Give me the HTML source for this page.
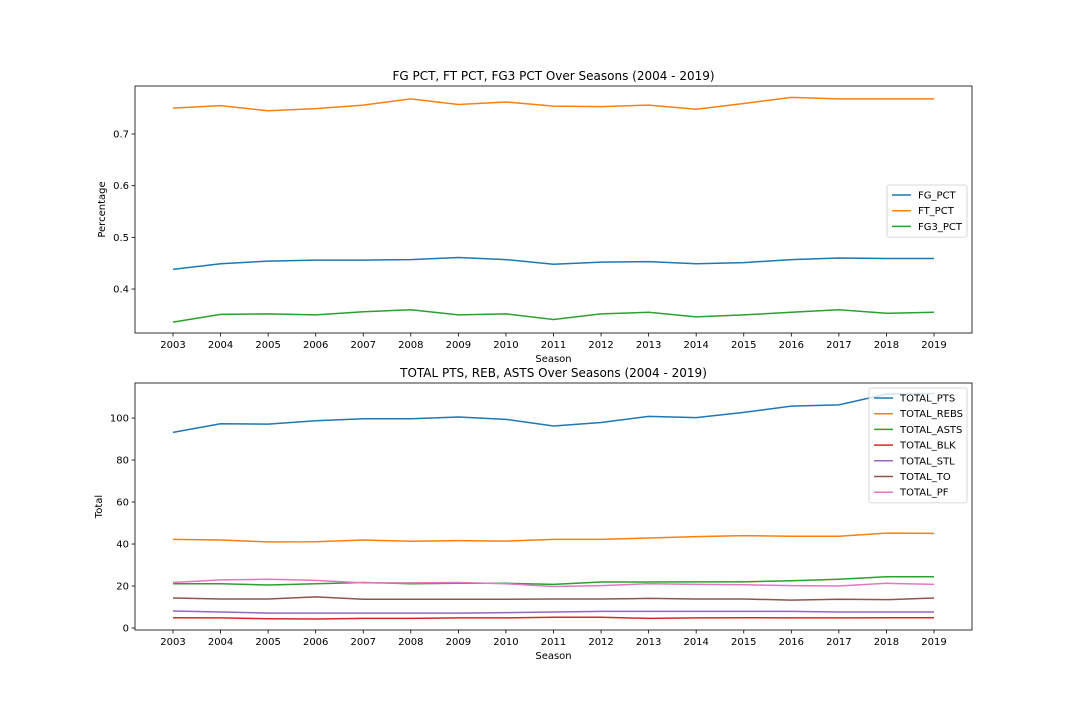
<!DOCTYPE html>
<html><head><meta charset="utf-8">
<style>
body{margin:0;background:#fff;}
svg{display:block;font-family:"DejaVu Sans","Liberation Sans",sans-serif;}
</style></head>
<body>
<svg id="fig" width="1080" height="720" viewBox="0 0 1080 720" xmlns="http://www.w3.org/2000/svg">
<rect width="1080" height="720" fill="#fff"/>
</svg>
<script>
const seasons = [2003,2004,2005,2006,2007,2008,2009,2010,2011,2012,2013,2014,2015,2016,2017,2018,2019];
const fgPct = [0.438,0.449,0.454,0.456,0.456,0.457,0.461,0.457,0.448,0.452,0.453,0.449,0.451,0.457,0.460,0.459,0.459];
const ftPct = [0.750,0.755,0.745,0.749,0.756,0.768,0.757,0.762,0.754,0.753,0.756,0.748,0.759,0.771,0.768,0.768,0.768];
const fg3Pct = [0.336,0.351,0.352,0.350,0.356,0.360,0.350,0.352,0.341,0.352,0.355,0.346,0.350,0.355,0.360,0.353,0.355];
const topTicks = [0.4,0.5,0.6,0.7];
const totPts = [93.2,97.3,97.1,98.7,99.7,99.7,100.5,99.4,96.2,97.9,100.8,100.2,102.7,105.7,106.3,111.4,111.7];
const totRebs = [42.2,41.9,41.0,41.1,41.9,41.3,41.6,41.4,42.2,42.2,42.9,43.5,44.0,43.7,43.7,45.2,45.1];
const totAsts = [21.1,21.1,20.5,21.1,21.7,21.1,21.3,21.3,20.8,21.9,21.9,22.0,22.0,22.5,23.2,24.4,24.4];
const totBlk = [4.9,4.8,4.4,4.3,4.6,4.6,4.8,4.8,5.1,5.1,4.6,4.8,4.9,4.8,4.8,4.9,4.9];
const totStl = [8.1,7.6,7.1,7.1,7.1,7.1,7.1,7.3,7.6,7.9,7.9,7.9,7.9,7.9,7.6,7.6,7.6];
const totTo = [14.3,13.8,13.8,14.8,13.7,13.7,13.7,13.7,13.8,13.8,14.1,13.8,13.8,13.3,13.7,13.5,14.3];
const totPf = [21.7,22.9,23.2,22.7,21.5,21.5,21.7,21.1,19.8,20.2,21.1,20.8,20.6,20.2,20.0,21.3,20.8];
const botTicks = [0,20,40,60,80,100];

const NS="http://www.w3.org/2000/svg";
const svg=document.getElementById('fig');
function el(tag,attrs,parent){const e=document.createElementNS(NS,tag);for(const k in attrs)e.setAttribute(k,attrs[k]);(parent||svg).appendChild(e);return e;}
function txt(s,attrs,parent){const t=el('text',attrs,parent);t.textContent=s;return t;}

function panel(cfg){
  const g=el('g',{});
  
  
  const L=135,R=972,T=cfg.top,B=cfg.bottom;
  const xs=v=>173+(v-2003)*(934-173)/16;
  const ys=v=>B-(v-cfg.ymin)/(cfg.ymax-cfg.ymin)*(B-T);
  // series
  cfg.series.forEach(s=>{
    const p=el('polyline',{points:s.data.map((v,i)=>xs(seasons[i]).toFixed(2)+','+ys(v).toFixed(2)).join(' '),fill:'none',stroke:s.color,'stroke-width':1.5},g);
    
    
  });
  const fr=el('rect',{x:L,y:T,width:R-L,height:B-T,fill:'none',stroke:'#000','stroke-width':0.8},g);
  
  
  seasons.forEach(s=>{
    const x=xs(s);
    el('line',{x1:x,y1:B,x2:x,y2:B+3.5,stroke:'#000','stroke-width':0.8},g);
    const t=txt(String(s),{x:x,y:B+15,'font-size':10,'text-anchor':'middle',fill:'#000'},g);
    
    
  });
  cfg.ticks.forEach(v=>{
    const y=ys(v);
    el('line',{x1:L,y1:y,x2:L-3.5,y2:y,stroke:'#000','stroke-width':0.8},g);
    const t=txt(cfg.fmt(v),{x:L-6,y:y+3.5,'font-size':10,'text-anchor':'end',fill:'#000'},g);
    
    
  });
  const tt=txt(cfg.title,{x:(L+R)/2,y:T-6,'font-size':12,'text-anchor':'middle',fill:'#000'},g);
  
  
  const xl=txt('Season',{x:(L+R)/2,y:B+29,'font-size':10,'text-anchor':'middle',fill:'#000'},g);
  
  
  const yx=cfg.ylabelX, ym=(T+B)/2;
  const yl=txt(cfg.ylabel,{x:yx,y:ym,'font-size':10,'text-anchor':'middle',fill:'#000',transform:`rotate(-90 ${yx} ${ym})`},g);
  
  
  // legend
  const lg=el('g',{},g);
  
  
  const lx=cfg.legX,ly=cfg.legY,lw=967-cfg.legX,lh=cfg.series.length*15.7+5;
  el('rect',{x:lx,y:ly,width:lw,height:lh,rx:2,fill:'#fff','fill-opacity':0.8,stroke:'#ccc','stroke-width':0.8},lg);
  cfg.series.forEach((s,i)=>{
    const y=ly+10+i*15.7;
    const e=el('g',{},lg);
    
    
    el('line',{x1:lx+5,y1:y,x2:lx+24,y2:y,stroke:s.color,'stroke-width':1.5},e);
    txt(s.label,{x:lx+31,y:y+3.5,'font-size':10,fill:'#000'},e);
  });
}
panel({name:'shooting-pct-chart',top:86,bottom:333,ymin:0.3149,ymax:0.7929,ticks:topTicks,fmt:v=>v.toFixed(1),
  title:'FG PCT, FT PCT, FG3 PCT Over Seasons (2004 - 2019)',ylabel:'Percentage',ylabelX:105,legX:887,legY:185,
  series:[{label:'FG_PCT',data:fgPct,color:'#1f77b4'},{label:'FT_PCT',data:ftPct,color:'#ff7f0e'},{label:'FG3_PCT',data:fg3Pct,color:'#2ca02c'}]});
panel({name:'totals-chart',top:383,bottom:630,ymin:-0.95,ymax:116.7,ticks:botTicks,fmt:v=>String(v),
  title:'TOTAL PTS, REB, ASTS Over Seasons (2004 - 2019)',ylabel:'Total',ylabelX:102,legX:869,legY:388,
  series:[{label:'TOTAL_PTS',data:totPts,color:'#1f77b4'},{label:'TOTAL_REBS',data:totRebs,color:'#ff7f0e'},{label:'TOTAL_ASTS',data:totAsts,color:'#2ca02c'},{label:'TOTAL_BLK',data:totBlk,color:'#d62728'},{label:'TOTAL_STL',data:totStl,color:'#9467bd'},{label:'TOTAL_TO',data:totTo,color:'#8c564b'},{label:'TOTAL_PF',data:totPf,color:'#e377c2'}]});
</script>
</body></html>
